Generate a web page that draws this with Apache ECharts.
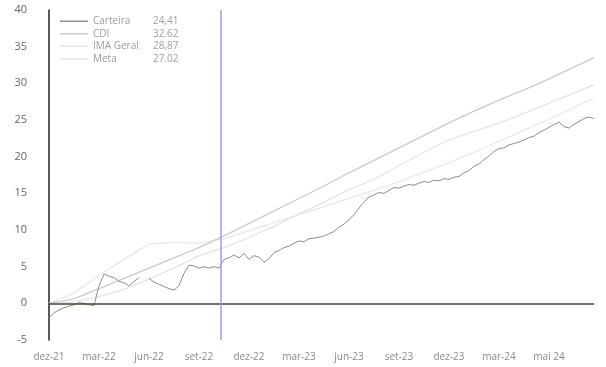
<!DOCTYPE html>
<html>
<head>
<meta charset="utf-8">
<script src="https://cdn.jsdelivr.net/npm/echarts@6/dist/echarts.min.js"></script>
<style>
  html, body { margin: 0; padding: 0; background: #fff; }
  #chart { width: 606px; height: 367px; }
</style>
</head>
<body>
<div id="chart"></div>
<script>
// x axis: one label every 10 points
var tickLabels = ['dez-21', 'mar-22', 'jun-22', 'set-22', 'dez-22', 'mar-23', 'jun-23', 'set-23', 'dez-23', 'mar-24', 'mai 24']

// carteira, one value per point (0..109)
var carteira = [
  -2.0, -1.3, -0.9, -0.6, -0.4, -0.2, 0.1, 0.0, -0.2, -0.3,
  2.4, 4.0, 3.7, 3.5, 3.0, 2.8, 2.4, 3.0, 3.5, null,
  3.4, 2.9, 2.6, 2.3, 2.0, 1.8, 2.4, 4.1, 5.2, 5.1,
  4.8, 5.0, 4.8, 5.0, 4.8, 6.0, 6.2, 6.6, 6.2, 6.8,
  6.0, 6.5, 6.3, 5.6, 6.1, 6.9, 7.2, 7.6, 7.8, 8.2,
  8.5, 8.4, 8.8, 8.9, 9.0, 9.2, 9.5, 9.8, 10.4, 10.8,
  11.4, 12.1, 13.0, 13.8, 14.5, 14.8, 15.1, 15.0, 15.4, 15.8,
  15.7, 16.0, 16.2, 16.1, 16.4, 16.6, 16.5, 16.8, 16.7, 17.0,
  16.9, 17.2, 17.3, 17.8, 18.1, 18.7, 19.0, 19.6, 20.1, 20.7,
  21.1, 21.2, 21.6, 21.8, 22.0, 22.3, 22.6, 22.8, 23.3, 23.6,
  24.0, 24.4, 24.7, 24.1, 23.9, 24.4, 24.8, 25.2, 25.4, 25.2
]

// benchmarks, read every 5 points
var refX = [0, 5, 10, 15, 20, 25, 30, 35, 40, 45, 50, 55, 60, 65, 70, 75, 80, 85, 90, 95, 100, 105, 109]
var cdi = [0, 0.6, 2.0, 3.4, 4.8, 6.2, 7.6, 9.2, 10.9, 12.6, 14.3, 16.0, 17.8, 19.5, 21.2, 22.9, 24.6, 26.2, 27.7, 29.1, 30.6, 32.2, 33.5]
var imaGeral = [0, 0.2, 0.9, 1.9, 3.3, 4.8, 6.5, 7.6, 9.0, 10.5, 12.2, 13.8, 15.5, 16.9, 18.8, 20.6, 22.3, 23.4, 24.6, 25.9, 27.3, 28.7, 29.8]
var meta = [0, 1.4, 3.8, 6.0, 8.1, 8.3, 8.2, 8.8, 9.9, 11.0, 12.1, 13.2, 14.3, 15.4, 16.6, 17.9, 19.2, 20.6, 22.1, 23.6, 25.1, 26.7, 28.0]

var legendValues = { 'Carteira': '24,41', 'CDI': '32.62', 'IMA Geral': '28,87', 'Meta': '27.02' }

function pairs(xs, ys) {
  return ys.map(function (v, i) { return [xs[i], v] })
}

var chart = echarts.init(document.getElementById('chart'))

chart.setOption({
  animation: false,
  textStyle: { fontFamily: 'Open Sans' },
  grid: { left: 49, right: 12, top: 10, bottom: 27 },
  legend: {
    orient: 'vertical',
    left: 55,
    top: 10,
    icon: 'rect',
    itemWidth: 28,
    itemHeight: 1.5,
    itemGap: 0,
    data: ['Carteira', 'CDI', 'IMA Geral', 'Meta'],
    formatter: function (name) {
      return '{n|' + name + '}{v|' + legendValues[name] + '}'
    },
    textStyle: {
      color: '#9a9a9a',
      fontSize: 10,
      lineHeight: 12.5,
      rich: {
        n: { width: 60, fontSize: 10, lineHeight: 12.5, color: '#9a9a9a' },
        v: { fontSize: 10, lineHeight: 12.5, color: '#a0a0a0' }
      }
    }
  },
  xAxis: {
    type: 'value',
    min: 0,
    max: 109,
    interval: 10,
    axisLine: { show: false },
    axisTick: { show: false },
    splitLine: { show: false },
    axisLabel: {
      color: '#8a8a8a',
      fontSize: 10,
      margin: 12,
      formatter: function (v) {
        return tickLabels[v / 10] || ''
      }
    }
  },
  yAxis: {
    type: 'value',
    min: -5,
    max: 40,
    interval: 5,
    axisLine: { show: true, onZero: false, lineStyle: { color: '#222', width: 1.5 } },
    axisTick: { show: false },
    splitLine: { show: false },
    axisLabel: { color: '#666', fontSize: 11, margin: 22 }
  },
  series: [
    {
      name: 'Meta',
      type: 'line',
      symbol: 'none',
      color: '#e8e8e8',
      lineStyle: { width: 1.3 },
      data: pairs(refX, meta)
    },
    {
      name: 'IMA Geral',
      type: 'line',
      symbol: 'none',
      color: '#e4e4e4',
      lineStyle: { width: 1.3 },
      data: pairs(refX, imaGeral)
    },
    {
      name: 'CDI',
      type: 'line',
      symbol: 'none',
      color: '#cbcbcb',
      lineStyle: { width: 1.3 },
      data: pairs(refX, cdi)
    },
    {
      name: 'Carteira',
      type: 'line',
      symbol: 'none',
      color: '#8e8e84',
      lineStyle: { width: 1 },
      connectNulls: false,
      data: carteira.map(function (v, i) { return [i, v] }),
      markLine: {
        silent: true,
        symbol: 'none',
        label: { show: false },
        data: [
          { yAxis: 0, lineStyle: { color: '#4a4430', width: 1.5, type: 'solid' } },
          { xAxis: 34.4, lineStyle: { color: '#9d9de2', width: 1.5, type: 'solid' } }
        ]
      }
    }
  ]
})
</script>
</body>
</html>
